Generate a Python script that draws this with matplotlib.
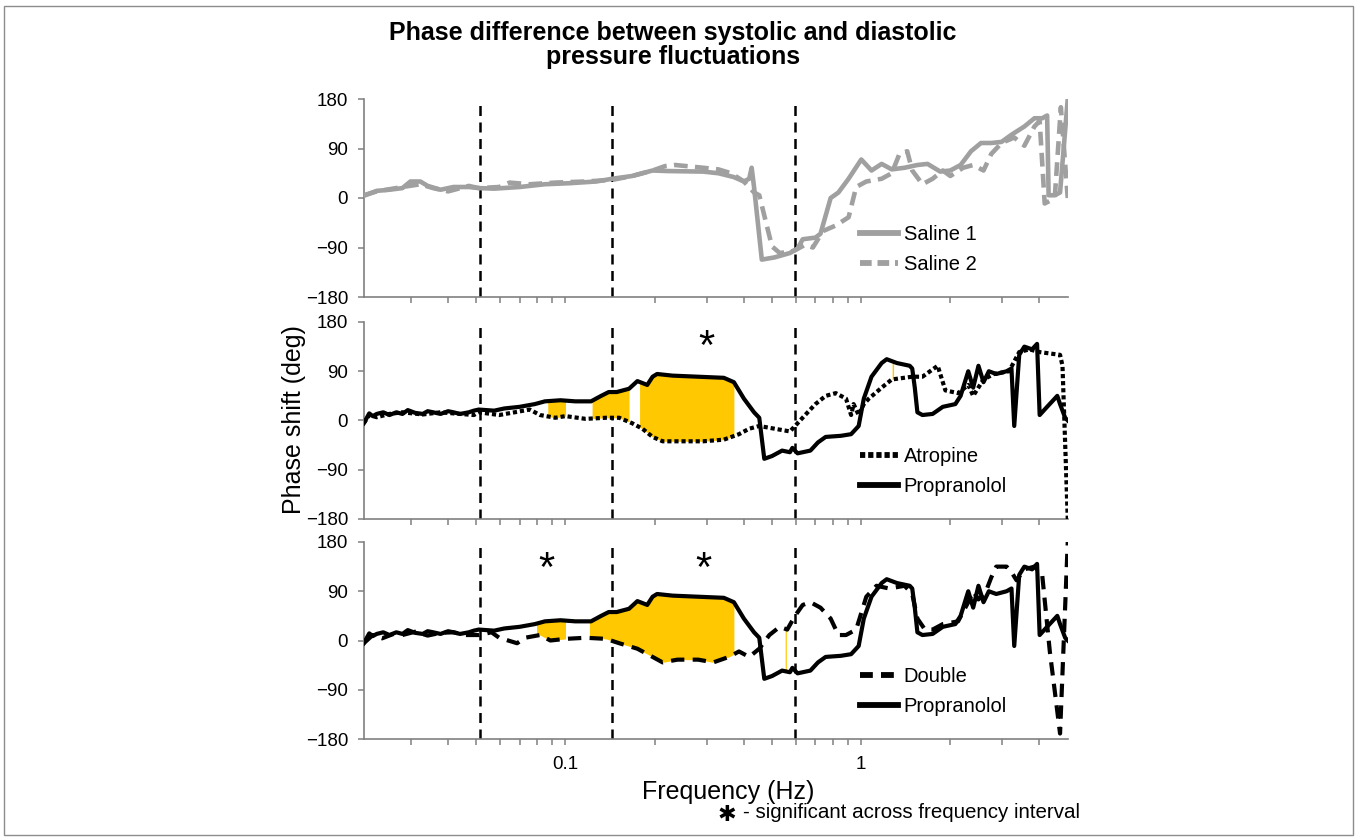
import numpy as np
import matplotlib
matplotlib.use("Agg")
import matplotlib.pyplot as plt
from matplotlib.ticker import FixedLocator, FixedFormatter, NullFormatter
from matplotlib.lines import Line2D
from matplotlib.patches import Rectangle

plt.rcParams['font.family'] = ['Liberation Sans', 'DejaVu Sans']

# ---------------- data (frequency in Hz, phase in deg) ----------------
saline1_f = [0.0208, 0.0230, 0.0254, 0.0281, 0.0299, 0.0323, 0.0342, 0.0378, 0.0418, 0.0471,
             0.0509, 0.0574, 0.0700, 0.0852, 0.104, 0.127, 0.144, 0.168, 0.197, 0.221,
             0.292, 0.329, 0.371, 0.401, 0.418, 0.426, 0.434, 0.461, 0.509, 0.574,
             0.609, 0.634, 0.700, 0.728, 0.788, 0.837, 0.906, 1.0, 1.083, 1.172,
             1.268, 1.401, 1.548, 1.675, 1.85, 2.0, 2.167, 2.35, 2.54, 2.75,
             2.98, 3.22, 3.56, 3.85, 4.09, 4.25, 4.30, 4.51, 4.70, 4.99]
saline1_v = [4, 13, 15, 18, 30, 30, 22, 15, 20, 20,
             18, 17, 20, 25, 27, 30, 35, 40, 50, 49,
             48, 45, 38, 30, 35, 55, 20, -112, -108, -100,
             -92, -75, -72, -65, 0, 10, 35, 70, 50, 62,
             52, 55, 60, 62, 48, 50, 60, 85, 100, 100,
             102, 115, 130, 145, 145, 150, 5, 5, 10, 180]

saline2_f = [0.0208, 0.0230, 0.0281, 0.0323, 0.0357, 0.0401, 0.0471, 0.0509, 0.0597, 0.0647,
             0.0757, 0.0924, 0.117, 0.144, 0.168, 0.197, 0.217, 0.235, 0.292, 0.329,
             0.363, 0.401, 0.434, 0.452, 0.499, 0.530, 0.574, 0.597, 0.646, 0.686,
             0.743, 0.820, 0.906, 0.961, 1.04, 1.172, 1.268, 1.346, 1.43, 1.487,
             1.61, 1.743, 1.887, 2.0, 2.21, 2.39, 2.59, 2.75, 2.98, 3.29,
             3.56, 3.85, 4.01, 4.17, 4.34, 4.51, 4.73, 4.99]
saline2_v = [5, 12, 20, 25, 18, 12, 22, 18, 20, 28,
             25, 28, 30, 33, 40, 50, 58, 60, 55, 52,
             45, 30, 10, 5, -88, -100, -98, -95, -85, -90,
             -60, -50, -35, 20, 30, 35, 45, 80, 85, 50,
             25, 35, 50, 40, 55, 60, 50, 80, 100, 110,
             95, 130, 140, -10, -5, 0, 165, 0]

propranolol_f = [0.0208, 0.0217, 0.0223, 0.0230, 0.0242, 0.0254, 0.0268, 0.0281, 0.0293, 0.0310,
                 0.0329, 0.0342, 0.0357, 0.0378, 0.0401, 0.0418, 0.0440, 0.0471, 0.0490,
                 0.0509, 0.0574, 0.0621, 0.0700, 0.0788, 0.0852, 0.0962, 0.108, 0.122, 0.132,
                 0.140, 0.149, 0.164, 0.175, 0.189, 0.197, 0.204, 0.230, 0.281, 0.343,
                 0.371, 0.401, 0.434, 0.452, 0.470, 0.499, 0.540, 0.574, 0.585, 0.609,
                 0.673, 0.714, 0.758, 0.853, 0.924, 0.980, 1.02, 1.083, 1.172, 1.219,
                 1.32, 1.458, 1.487, 1.517, 1.548, 1.61, 1.743, 1.887, 2.08, 2.167,
                 2.30, 2.39, 2.49, 2.59, 2.70, 2.86, 3.10, 3.22, 3.29, 3.42,
                 3.56, 3.78, 3.93, 4.01, 4.25, 4.60, 4.70, 4.89, 4.99]
propranolol_v = [-5, 13, 8, 12, 15, 10, 15, 12, 19, 14,
                 12, 17, 15, 12, 17, 15, 12, 15, 18,
                 20, 18, 22, 25, 30, 35, 37, 35, 35, 45,
                 52, 52, 58, 72, 65, 80, 85, 82, 80, 78,
                 70, 40, 15, 5, -70, -65, -55, -58, -50, -60,
                 -55, -40, -30, -28, -25, -10, 40, 80, 105, 112,
                 105, 100, 95, 60, 15, 10, 12, 25, 30, 45,
                 90, 60, 100, 70, 90, 85, 90, 95, -10, 120,
                 135, 130, 140, 10, 25, 45, 30, 5, 0]

atropine_f = [0.0208, 0.0217, 0.0230, 0.0254, 0.0281, 0.0329, 0.0378, 0.0418, 0.0490, 0.0509,
              0.0597, 0.0673, 0.0757, 0.0820,
              0.0924, 0.100, 0.117, 0.137, 0.152, 0.168, 0.182, 0.197, 0.213, 0.292,
              0.343, 0.386, 0.418, 0.452, 0.509, 0.574, 0.609, 0.646, 0.700, 0.758,
              0.820, 0.888, 0.924, 0.942, 0.980, 1.02, 1.061, 1.172, 1.268, 1.487,
              1.61, 1.813, 1.925, 2.125, 2.30, 2.39, 2.59, 2.81, 3.16, 3.42,
              3.70, 4.01, 4.70, 4.79, 4.99]
atropine_v = [-5, 10, 6, 12, 15, 11, 15, 13, 10, 15,
              10, 15, 20, 10,
              5, 8, 3, 5, 5, -5, -15, -30, -38, -38,
              -35, -25, -15, -10, -15, -20, -5, 10, 30, 45,
              50, 40, 10, 30, 10, 30, 40, 60, 75, 80,
              80, 100, 55, 50, 65, 45, 75, 85, 90, 125,
              130, 125, 120, 100, -180]

double_f = [0.0208, 0.0223, 0.0240, 0.0262, 0.0281, 0.0310, 0.0342, 0.0378, 0.0418, 0.0460,
            0.0509, 0.0562, 0.0597, 0.0686, 0.0729, 0.0820,
            0.0889, 0.100, 0.117, 0.137, 0.152, 0.175, 0.197, 0.213, 0.239, 0.281,
            0.316, 0.357, 0.386, 0.418, 0.452, 0.489, 0.530, 0.562, 0.597, 0.634,
            0.673, 0.728, 0.788, 0.837, 0.888, 0.961, 1.04, 1.126, 1.244, 1.401,
            1.487, 1.548, 1.642, 1.743, 1.887, 2.125, 2.30, 2.39, 2.49, 2.64,
            2.75, 2.86, 3.10, 3.22, 3.35, 3.56, 3.85, 4.09, 4.34, 4.70, 4.99]
double_v = [-5, 10, 4, 12, 10, 16, 9, 14, 15, 10,
            10, 15, 5, -5, 5, 10,
            0, 3, 5, 3, -5, -15, -30, -40, -35, -35,
            -40, -30, -20, -30, -15, 10, 25, 20, 45, 65,
            70, 60, 40, 10, 10, 20, 80, 100, 95, 100,
            85, 40, 20, 20, 30, 35, 70, 90, 75, 90,
            115, 135, 135, 125, 110, 130, 135, 120, -20, -170, 180]

band_edges = [0.0513, 0.144, 0.597]
fill_mid = [(0.0871, 0.100), (0.123, 0.164), (0.178, 0.371), (1.272, 1.286)]
fill_bot = [(0.0798, 0.100), (0.1205, 0.371), (0.553, 0.558)]
stars_mid = [(0.300, 156)]
stars_bot = [(0.0863, 153), (0.292, 153)]

x_min, x_max = 1 / 48, 5.0
yticks = [-180, -90, 0, 90, 180]

GRAY = '#A0A0A0'
GOLD = '#FFC800'
SPINE = '#808080'

# ---------------- figure ----------------
fig = plt.figure(figsize=(13.56, 8.39), dpi=100)
W, H = 1356, 839

def add_panel(top_px, bot_px):
    ax = fig.add_axes([364 / W, 1 - bot_px / H, 704 / W, (bot_px - top_px) / H])
    ax.set_xscale('log')
    ax.set_xlim(x_min, x_max)
    ax.set_ylim(-180, 180)
    ax.set_yticks(yticks)
    ax.set_yticklabels([str(t).replace('-', '\u2212') for t in yticks])
    for s in ['top', 'right']:
        ax.spines[s].set_visible(False)
    for s in ['left', 'bottom']:
        ax.spines[s].set_color(SPINE)
        ax.spines[s].set_linewidth(1.2)
    ax.xaxis.set_major_locator(FixedLocator([0.1, 1.0]))
    ax.xaxis.set_minor_locator(FixedLocator(
        [0.03, 0.04, 0.05, 0.06, 0.07, 0.08, 0.09,
         0.2, 0.3, 0.4, 0.5, 0.6, 0.7, 0.8, 0.9, 2, 3, 4]))
    ax.xaxis.set_minor_formatter(NullFormatter())
    ax.tick_params(axis='both', which='both', direction='out', color=SPINE,
                   width=1.1, length=4.5, labelsize=13.5)
    ax.tick_params(axis='y', pad=7)
    ax.tick_params(axis='x', pad=8)
    ax.patch.set_alpha(0)
    for f in band_edges:
        ax.axvline(f, color='black', lw=1.8, ls=(0, (4, 2.6)), zorder=1)
    return ax

ax1 = add_panel(99, 297)
ax2 = add_panel(322, 519)
ax3 = add_panel(542, 739)

for ax in (ax1, ax2):
    ax.xaxis.set_major_formatter(NullFormatter())
ax3.xaxis.set_major_formatter(FixedFormatter(['0.1', '1']))


def shade(ax, fa, va, fb, vb, regions):
    for lo, hi in regions:
        g = np.logspace(np.log10(lo), np.log10(hi), 60)
        ya = np.interp(np.log10(g), np.log10(fa), va)
        yb = np.interp(np.log10(g), np.log10(fb), vb)
        ax.fill_between(g, ya, yb, color=GOLD, lw=0, zorder=2)


# top panel
ax1.plot(saline1_f, saline1_v, color=GRAY, lw=3.3, solid_joinstyle='round', zorder=4,
         label='Saline 1')
ax1.plot(saline2_f, saline2_v, color=GRAY, lw=3.3, ls=(0, (3, 1.6)), zorder=3,
         label='Saline 2')

# middle panel
shade(ax2, propranolol_f, propranolol_v, atropine_f, atropine_v, fill_mid)
ax2.plot(atropine_f, atropine_v, color='black', lw=3.0, ls=(0, (1, 0.7)),
         dash_capstyle='butt', zorder=3, label='Atropine')
ax2.plot(propranolol_f, propranolol_v, color='black', lw=3.0, zorder=4,
         label='Propranolol')

# bottom panel
shade(ax3, propranolol_f, propranolol_v, double_f, double_v, fill_bot)
ax3.plot(double_f, double_v, color='black', lw=3.0, ls=(0, (3.2, 2.0)),
         dash_capstyle='butt', zorder=3, label='Double')
ax3.plot(propranolol_f, propranolol_v, color='black', lw=3.0, zorder=4,
         label='Propranolol')

for ax, stars in ((ax2, stars_mid), (ax3, stars_bot)):
    for f, v in stars:
        ax.annotate('*', xy=(f, v), xytext=(0, -17.5), textcoords='offset points',
                    ha='center', va='baseline', fontsize=30, zorder=6)

# legends
for ax in (ax1, ax2, ax3):
    handles, labels = ax.get_legend_handles_labels()
    new_h = []
    for h in handles:
        nh = Line2D([], [], color=h.get_color(), lw=4.2, ls=h.get_linestyle(),
                    dash_capstyle='butt')
        if h.get_label() == 'Atropine':
            nh.set_linestyle((0, (0.9, 0.5)))
        elif h.get_label() == 'Double':
            nh.set_linestyle((0, (2.2, 1.4)))
        elif h.get_label() == 'Saline 2':
            nh.set_linestyle((0, (2.0, 1.0)))
        new_h.append(nh)
    ax.legend(new_h, labels, loc='center left', bbox_to_anchor=(0.705, 0.24),
              frameon=False, fontsize=14.5, handlelength=1.85, handletextpad=0.3,
              labelspacing=0.55, borderpad=0, borderaxespad=0)

# texts
fig.text(673 / W, 1 - 21 / H,
         'Phase difference between systolic and diastolic\npressure fluctuations',
         ha='center', va='top', fontsize=18, fontweight='bold', linespacing=1.0)
fig.text(294 / W, 1 - 420 / H, 'Phase shift (deg)', rotation=90, ha='center',
         va='center', fontsize=18)
fig.text(728 / W, 1 - 792 / H, 'Frequency (Hz)', ha='center', va='center', fontsize=18)
fig.text(727 / W, 1 - 815 / H, '\u2731', ha='center', va='center', fontsize=16,
         family='DejaVu Sans', fontweight='bold')
fig.text(1080 / W, 1 - 812 / H, '- significant across frequency interval',
         ha='right', va='center', fontsize=14.8)

# outer frame
fig.patches.append(Rectangle((4 / W, 4 / H), 1349 / W, 829 / H, transform=fig.transFigure,
                             fill=False, edgecolor='#8c8c8c', lw=1.0))

fig.savefig('out.png', dpi=100)
